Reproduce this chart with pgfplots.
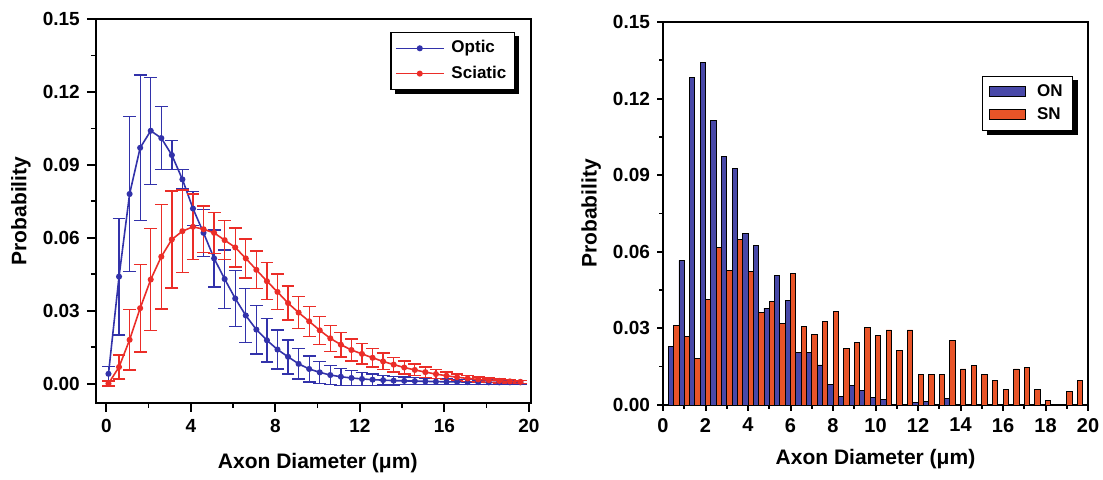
\documentclass[border=0pt]{standalone}
\usepackage{fontspec}
\setmainfont{Liberation Sans}
\usepackage{pgfplots}
\pgfplotsset{compat=1.18}
\usepackage{pgfplotstable}
\definecolor{optic}{RGB}{50,50,170}
\definecolor{sciatic}{RGB}{235,45,40}
\definecolor{onc}{RGB}{72,72,168}
\definecolor{snc}{RGB}{232,84,40}

\pgfplotstableread{
x y e
0.1 0.004 0.003
0.6 0.044 0.024
1.1 0.078 0.032
1.6 0.097 0.030
2.1 0.104 0.022
2.6 0.101 0.013
3.1 0.094 0.006
3.6 0.084 0.004
4.1 0.072 0.007
4.6 0.062 0.0097
5.1 0.0515 0.0117
5.6 0.043 0.012
6.1 0.035 0.0115
6.6 0.028 0.011
7.1 0.0222 0.010
7.6 0.0178 0.009
8.1 0.014 0.008
8.6 0.011 0.007
9.1 0.0081 0.0063
9.6 0.006 0.0053
10.1 0.0046 0.0045
10.6 0.0035 0.004
11.1 0.0028 0.0035
11.6 0.0023 0.003
12.1 0.0019 0.0026
12.6 0.0016 0.0023
13.1 0.0014 0.002
13.6 0.0012 0.0018
14.1 0.0011 0.0016
14.6 0.001 0.0014
15.1 0.0009 0.0013
15.6 0.0008 0.0012
16.1 0.0007 0.0011
16.6 0.0007 0.001
17.1 0.0006 0.001
17.6 0.0006 0.0009
18.1 0.0005 0.0009
18.6 0.0005 0.0008
19.1 0.0005 0.0008
19.6 0.0005 0.0008
}\optic

\pgfplotstableread{
x y e
0.1 0.000 0.001
0.6 0.0068 0.005
1.1 0.018 0.0125
1.6 0.031 0.018
2.1 0.0428 0.021
2.6 0.0522 0.0215
3.1 0.0593 0.020
3.6 0.0627 0.017
4.1 0.0645 0.0135
4.6 0.0635 0.0095
5.1 0.062 0.0085
5.6 0.059 0.008
6.1 0.056 0.008
6.6 0.0515 0.008
7.1 0.0468 0.0078
7.6 0.0421 0.0076
8.1 0.0377 0.0073
8.6 0.0331 0.007
9.1 0.0292 0.0066
9.6 0.0256 0.0062
10.1 0.0219 0.0058
10.6 0.0186 0.0054
11.1 0.016 0.005
11.6 0.0138 0.0046
12.1 0.0122 0.0042
12.6 0.0106 0.0038
13.1 0.0091 0.0034
13.6 0.0078 0.003
14.1 0.0066 0.0027
14.6 0.0056 0.0024
15.1 0.0047 0.0021
15.6 0.0039 0.0018
16.1 0.0032 0.0016
16.6 0.0026 0.0014
17.1 0.0021 0.0012
17.6 0.0017 0.001
18.1 0.0014 0.0009
18.6 0.0011 0.0008
19.1 0.0009 0.0007
19.6 0.0007 0.0006
}\sciatic

\pgfplotstableread{
x on sn
0.5 0.0231 0.0310
1.0 0.0566 0.0268
1.5 0.1284 0.0183
2.0 0.1343 0.0414
2.5 0.1113 0.0618
3.0 0.0975 0.0527
3.5 0.0926 0.0647
4.0 0.0672 0.0523
4.5 0.0625 0.0362
5.0 0.0379 0.0405
5.5 0.0508 0.0318
6.0 0.0408 0.0515
6.5 0.0205 0.0307
7.0 0.0205 0.0277
7.5 0.0157 0.0327
8.0 0.0082 0.0366
8.5 0.0033 0.0222
9.0 0.0076 0.0246
9.5 0.0058 0.0302
10.0 0.0031 0.0272
10.5 0.0020 0.0294
11.0 nan 0.0213
11.5 nan 0.0294
12.0 0.0010 0.0119
12.5 0.0015 0.0119
13.0 nan 0.0119
13.5 0.0027 0.0252
14.0 nan 0.0141
14.5 nan 0.0155
15.0 nan 0.0119
15.5 nan 0.0095
16.0 nan 0.0060
16.5 nan 0.0141
17.0 nan 0.0148
17.5 nan 0.0060
18.0 nan 0.0017
18.5 nan nan
19.0 nan 0.0054
19.5 nan 0.0095
}\bars

\pgfplotsset{
  common/.style={
    scale only axis,
    anchor=south west,
    axis line style={line width=1.2pt},
    tick align=outside,
    xtick pos=left, ytick pos=left,
    major tick style={black, line width=1pt},
    minor tick style={black, line width=0.8pt},
    /pgf/number format/assume math mode=true,
    tick label style={font=\fontsize{9.5}{11}\selectfont\bfseries},
    label style={font=\fontsize{10.5}{12}\selectfont\bfseries},
    scaled y ticks=false,
    yticklabel style={/pgf/number format/fixed, /pgf/number format/fixed zerofill, /pgf/number format/precision=2},
    ytick={0,0.03,0.06,0.09,0.12,0.15},
    minor y tick num=1,
    minor x tick num=1,
    ylabel={Probability},
    xlabel={Axon Diameter (μm)},
    legend cell align=left,
  }
}

\begin{document}
\begin{tikzpicture}
\useasboundingbox (0pt,0pt) rectangle (551.5pt,240pt);
\begin{axis}[common,
  at={(47.9pt,38.5pt)}, width=217.6pt, height=192pt,
  xmin=-0.5, xmax=20.1, ymin=-0.008, ymax=0.15,
  xtick={0,4,8,12,16,20},
  major tick length=4.5pt, minor tick length=2.5pt,
  xlabel style={at={(axis description cs:0.51,-0.156)}, anchor=center},
  ylabel style={at={(axis description cs:-0.172,0.5)}, anchor=center},
  legend style={name=legL, at={(0.963,0.966)}, anchor=north east, draw=black, line width=0.6pt, fill=white,
    font=\fontsize{8.5}{10}\selectfont\bfseries,
    inner xsep=2pt, inner ysep=2pt, row sep=1pt,
    /tikz/every odd column/.append style={column sep=1.5pt}},
  legend image code/.code={\draw[mark repeat=2,mark phase=2,#1] plot coordinates {(0cm,0cm) (0.42cm,0cm) (0.84cm,0cm)};},
]
\addplot[color=optic, line width=0.8pt, mark=*, mark size=1.1pt,
  error bars/.cd, y dir=both, y explicit,
  error bar style={line width=0.65pt, color=optic},
  error mark options={rotate=90, mark size=3.2pt, line width=0.7pt, color=optic}]
  table[x=x, y=y, y error=e] {\optic};
\addlegendentry{Optic}
\addplot[color=sciatic, line width=0.8pt, mark=*, mark size=1.1pt,
  error bars/.cd, y dir=both, y explicit,
  error bar style={line width=0.65pt, color=sciatic},
  error mark options={rotate=90, mark size=3.2pt, line width=0.7pt, color=sciatic}]
  table[x=x, y=y, y error=e] {\sciatic};
\addlegendentry{Sciatic}
\end{axis}
\fill[black] ([xshift=2.2pt]legL.south west) rectangle ([xshift=2.2pt,yshift=-2.2pt]legL.south east);
\fill[black] ([yshift=-2.2pt]legL.north east) rectangle ([xshift=2.2pt,yshift=-2.2pt]legL.south east);

\begin{axis}[common,
  at={(331.5pt,37.5pt)}, width=212.5pt, height=191.5pt,
  xmin=0, xmax=20, ymin=0, ymax=0.15,
  xtick={0,2,...,20},
  major tick length=3pt, minor tick length=2pt,
  xticklabel style={font=\fontsize{10}{11}\selectfont\bfseries},
  xlabel style={at={(axis description cs:0.5,-0.14)}, anchor=center},
  ylabel style={at={(axis description cs:-0.169,0.5)}, anchor=center},
  legend style={name=legR, at={(0.965,0.859)}, anchor=north east, draw=black, line width=0.6pt, fill=white,
    font=\fontsize{8.5}{9}\selectfont\bfseries,
    inner xsep=3pt, inner ysep=2pt, row sep=0pt,
    /tikz/every odd column/.append style={column sep=3.5pt}},
  legend image code/.code={\draw[#1, draw=black, line width=0.4pt] (0cm,-0.08cm) rectangle (0.64cm,0.1cm);},
]
\addplot[ybar, bar width=0.25, bar shift=-0.125, fill=onc, draw=black, line width=0.4pt]
  table[x=x, y=on] {\bars};
\addlegendentry{ON\hspace{15pt}}
\addplot[ybar, bar width=0.25, bar shift=0.125, fill=snc, draw=black, line width=0.4pt]
  table[x=x, y=sn] {\bars};
\addlegendentry{SN\hspace{15pt}}
\end{axis}
\fill[black] ([xshift=2.2pt]legR.south west) rectangle ([xshift=2.2pt,yshift=-2.2pt]legR.south east);
\fill[black] ([yshift=-2.2pt]legR.north east) rectangle ([xshift=2.2pt,yshift=-2.2pt]legR.south east);
\end{tikzpicture}
\end{document}
